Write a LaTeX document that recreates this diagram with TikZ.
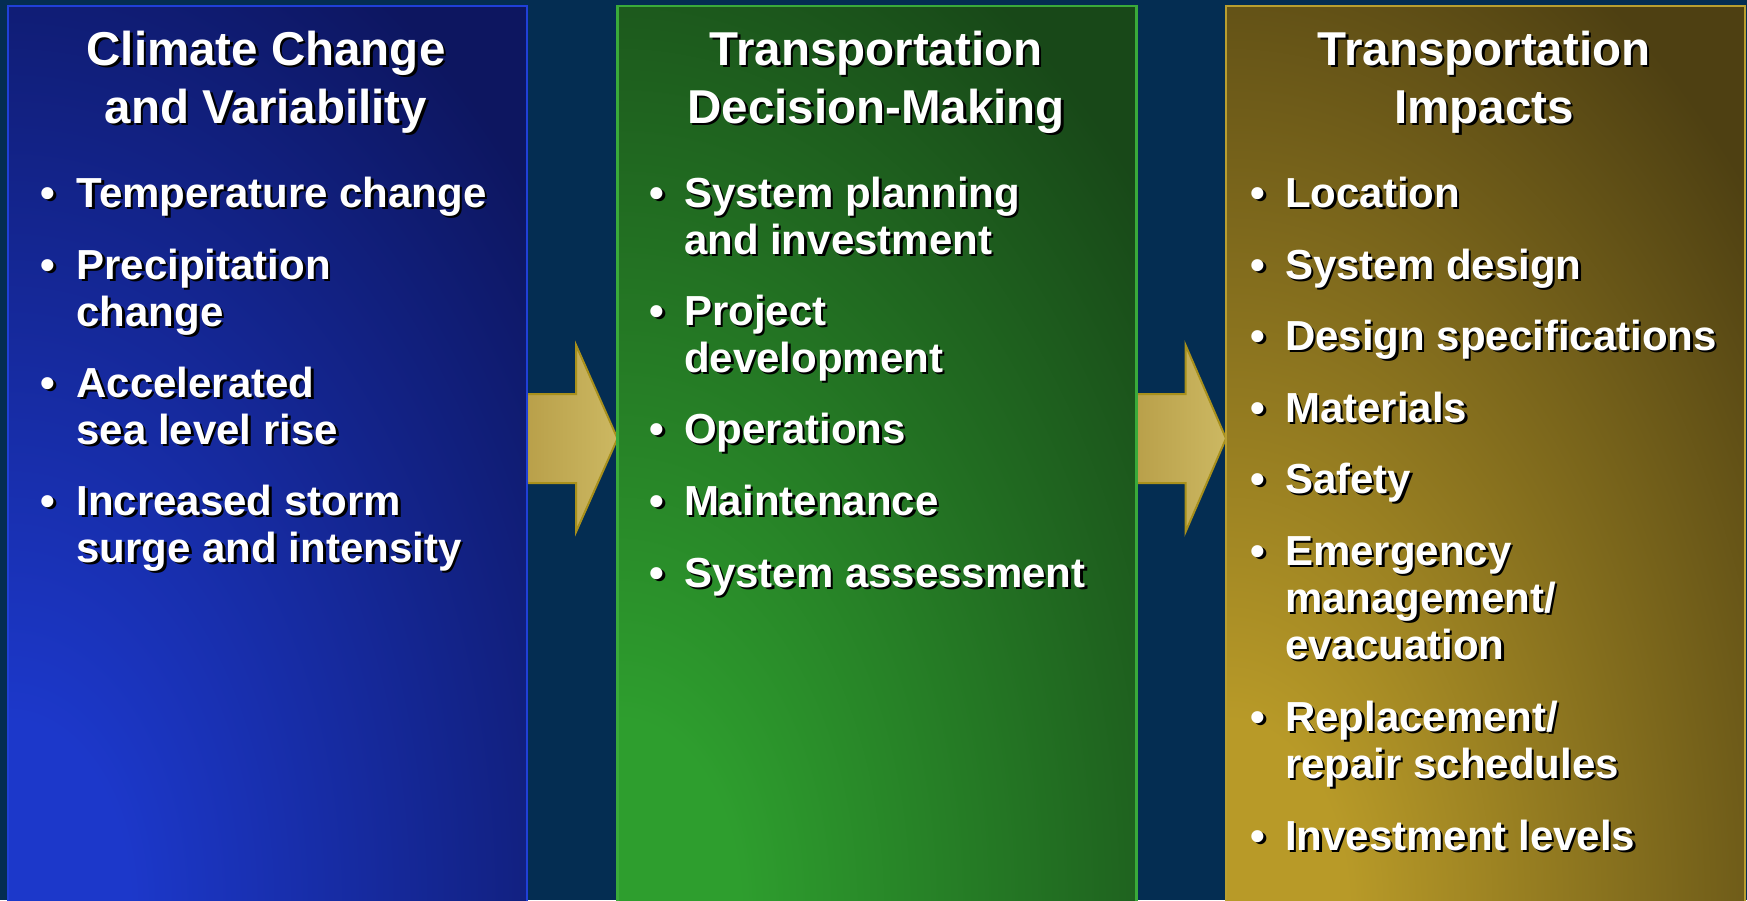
\documentclass[tikz,border=0pt]{standalone}
\usepackage{fontspec}
\setmainfont{Liberation Sans}
\usetikzlibrary{calc}
\definecolor{bgnavy}{HTML}{042D52}
\definecolor{bluebright}{HTML}{1C38CA}
\definecolor{bluedark}{HTML}{0D1660}
\definecolor{blueborder}{HTML}{2040D8}
\definecolor{greenbright}{HTML}{2E9E2E}
\definecolor{greendark}{HTML}{184818}
\definecolor{greenborder}{HTML}{3AAA3A}
\definecolor{goldbright}{HTML}{B89A28}
\definecolor{golddark}{HTML}{4E4012}
\definecolor{goldborder}{HTML}{B89E30}
\definecolor{arrowleft}{HTML}{B9A04A}
\definecolor{arrowright}{HTML}{CCB862}
\definecolor{arrowedge}{HTML}{A8901C}
\pgfdeclareradialshading{blueshade}{\pgfpoint{0bp}{0bp}}{color(0bp)=(bluebright); color(4bp)=(bluebright); color(23bp)=(bluedark); color(50bp)=(bluedark)}
\pgfdeclareradialshading{greenshade}{\pgfpoint{0bp}{0bp}}{color(0bp)=(greenbright); color(4bp)=(greenbright); color(23bp)=(greendark); color(50bp)=(greendark)}
\pgfdeclareradialshading{goldshade}{\pgfpoint{0bp}{0bp}}{color(0bp)=(goldbright); color(4bp)=(goldbright); color(23bp)=(golddark); color(50bp)=(golddark)}
\newcommand\shtxt[4]{%
  \node[#3, text=black, xshift=2.5pt, yshift=-2.5pt] at (#2) {#4};
  \node[#3, text=white] (#1) at (#2) {#4};}
\begin{document}
\begin{tikzpicture}[x=1pt,y=-1pt,
  panelshape/.style={inner sep=0pt, outer sep=0pt, anchor=north west, minimum width=519pt, minimum height=904pt},
  bigarrow/.style={left color=arrowleft, right color=arrowright, draw=arrowedge, line width=2pt, line join=miter},
  titletxt/.style={inner sep=0pt, outer sep=0pt, anchor=base, font=\fontsize{47.5}{58}\selectfont\bfseries},
  itemtxt/.style={inner sep=0pt, outer sep=0pt, anchor=base west, font=\fontsize{42}{47}\selectfont\bfseries},
  bullettxt/.style={inner sep=0pt, outer sep=0pt, anchor=base, font=\fontsize{42}{47}\selectfont\bfseries}]
\useasboundingbox (0,0) rectangle (1747,900);
\begin{scope}
\clip (0,0) rectangle (1747,900);
\fill[bgnavy] (0,0) rectangle (1747,900);
% panel shapes
\node[panelshape] (p1) at (8,6) {};
\node[panelshape] (p2) at (617.5,6) {};
\node[panelshape] (p3) at (1226,6) {};
% arrows (connectors)
\coordinate (a1s) at (p1.north east |- 0,438.5);
\coordinate (a1e) at (p2.north west |- 0,438.5);
\coordinate (a2s) at (p2.north east |- 0,438.5);
\coordinate (a2e) at (p3.north west |- 0,438.5);
\draw[bigarrow] ($(a1s)+(0,-44.5)$) -- ($(a1s)+(49,-44.5)$) -- ($(a1s)+(49,-93.5)$) -- (a1e)
  -- ($(a1s)+(49,93.5)$) -- ($(a1s)+(49,44.5)$) -- ($(a1s)+(0,44.5)$) -- cycle;
\draw[bigarrow] ($(a2s)+(0,-44.5)$) -- ($(a2s)+(49,-44.5)$) -- ($(a2s)+(49,-93.5)$) -- (a2e)
  -- ($(a2s)+(49,93.5)$) -- ($(a2s)+(49,44.5)$) -- ($(a2s)+(0,44.5)$) -- cycle;
% panel fills
\begin{scope}
\clip (p1.north west) rectangle (p1.south east);
\fill[bluedark] (p1.north west) rectangle (p1.south east);
\shade[shading=blueshade] ($(p1.south west)+(-760,-1180)$) rectangle ($(p1.south west)+(760,1180)$);
\end{scope}
\begin{scope}
\clip (p2.north west) rectangle (p2.south east);
\fill[greendark] (p2.north west) rectangle (p2.south east);
\shade[shading=greenshade] ($(p2.south west)+(-760,-1180)$) rectangle ($(p2.south west)+(760,1180)$);
\end{scope}
\begin{scope}
\clip (p3.north west) rectangle (p3.south east);
\fill[golddark] (p3.north west) rectangle (p3.south east);
\shade[shading=goldshade] ($(p3.south west)+(-760,-1180)$) rectangle ($(p3.south west)+(760,1180)$);
\end{scope}
\draw[blueborder, line width=2.5pt] (p1.north west) rectangle (p1.south east);
\draw[greenborder, line width=2.5pt] (p2.north west) rectangle (p2.south east);
\draw[goldborder, line width=2.5pt] (p3.north west) rectangle (p3.south east);
% titles
\shtxt{t1a}{266,65}{titletxt}{Climate Change}
\shtxt{t1b}{266,123}{titletxt}{and Variability}
\shtxt{t2a}{876,65}{titletxt}{Transportation}
\shtxt{t2b}{876,123}{titletxt}{Decision-Making}
\shtxt{t3a}{1484,65}{titletxt}{Transportation}
\shtxt{t3b}{1484,123}{titletxt}{Impacts}
% blue items
\shtxt{b1a}{48,207}{bullettxt}{•}
\shtxt{i1a}{76.5,207}{itemtxt}{Temperature change}
\shtxt{b1b}{48,279}{bullettxt}{•}
\shtxt{i1b}{76.5,279}{itemtxt}{Precipitation}
\shtxt{i1bb}{76.5,326}{itemtxt}{change}
\shtxt{b1c}{48,397}{bullettxt}{•}
\shtxt{i1c}{76.5,397}{itemtxt}{Accelerated}
\shtxt{i1cc}{76.5,444}{itemtxt}{sea level rise}
\shtxt{b1d}{48,515}{bullettxt}{•}
\shtxt{i1d}{76.5,515}{itemtxt}{Increased storm}
\shtxt{i1dd}{76.5,562}{itemtxt}{surge and intensity}
% green items
\shtxt{b2a}{657,207}{bullettxt}{•}
\shtxt{i2a}{684,207}{itemtxt}{System planning}
\shtxt{i2aa}{684,254}{itemtxt}{and investment}
\shtxt{b2b}{657,325}{bullettxt}{•}
\shtxt{i2b}{684,325}{itemtxt}{Project}
\shtxt{i2bb}{684,372}{itemtxt}{development}
\shtxt{b2c}{657,443}{bullettxt}{•}
\shtxt{i2c}{684,443}{itemtxt}{Operations}
\shtxt{b2d}{657,515}{bullettxt}{•}
\shtxt{i2d}{684,515}{itemtxt}{Maintenance}
\shtxt{b2e}{657,587}{bullettxt}{•}
\shtxt{i2e}{684,587}{itemtxt}{System assessment}
% gold items
\shtxt{b3a}{1258,207}{bullettxt}{•}
\shtxt{i3a}{1285,207}{itemtxt}{Location}
\shtxt{b3b}{1258,279}{bullettxt}{•}
\shtxt{i3b}{1285,279}{itemtxt}{System design}
\shtxt{b3c}{1258,350}{bullettxt}{•}
\shtxt{i3c}{1285,350}{itemtxt}{Design specifications}
\shtxt{b3d}{1258,422}{bullettxt}{•}
\shtxt{i3d}{1285,422}{itemtxt}{Materials}
\shtxt{b3e}{1258,493}{bullettxt}{•}
\shtxt{i3e}{1285,493}{itemtxt}{Safety}
\shtxt{b3f}{1258,565}{bullettxt}{•}
\shtxt{i3f}{1285,565}{itemtxt}{Emergency}
\shtxt{i3ff}{1285,612}{itemtxt}{management/}
\shtxt{i3fff}{1285,659}{itemtxt}{evacuation}
\shtxt{b3g}{1258,731}{bullettxt}{•}
\shtxt{i3g}{1285,731}{itemtxt}{Replacement/}
\shtxt{i3gg}{1285,778}{itemtxt}{repair schedules}
\shtxt{b3h}{1258,850}{bullettxt}{•}
\shtxt{i3h}{1285,850}{itemtxt}{Investment levels}
\end{scope}
\end{tikzpicture}
\end{document}
